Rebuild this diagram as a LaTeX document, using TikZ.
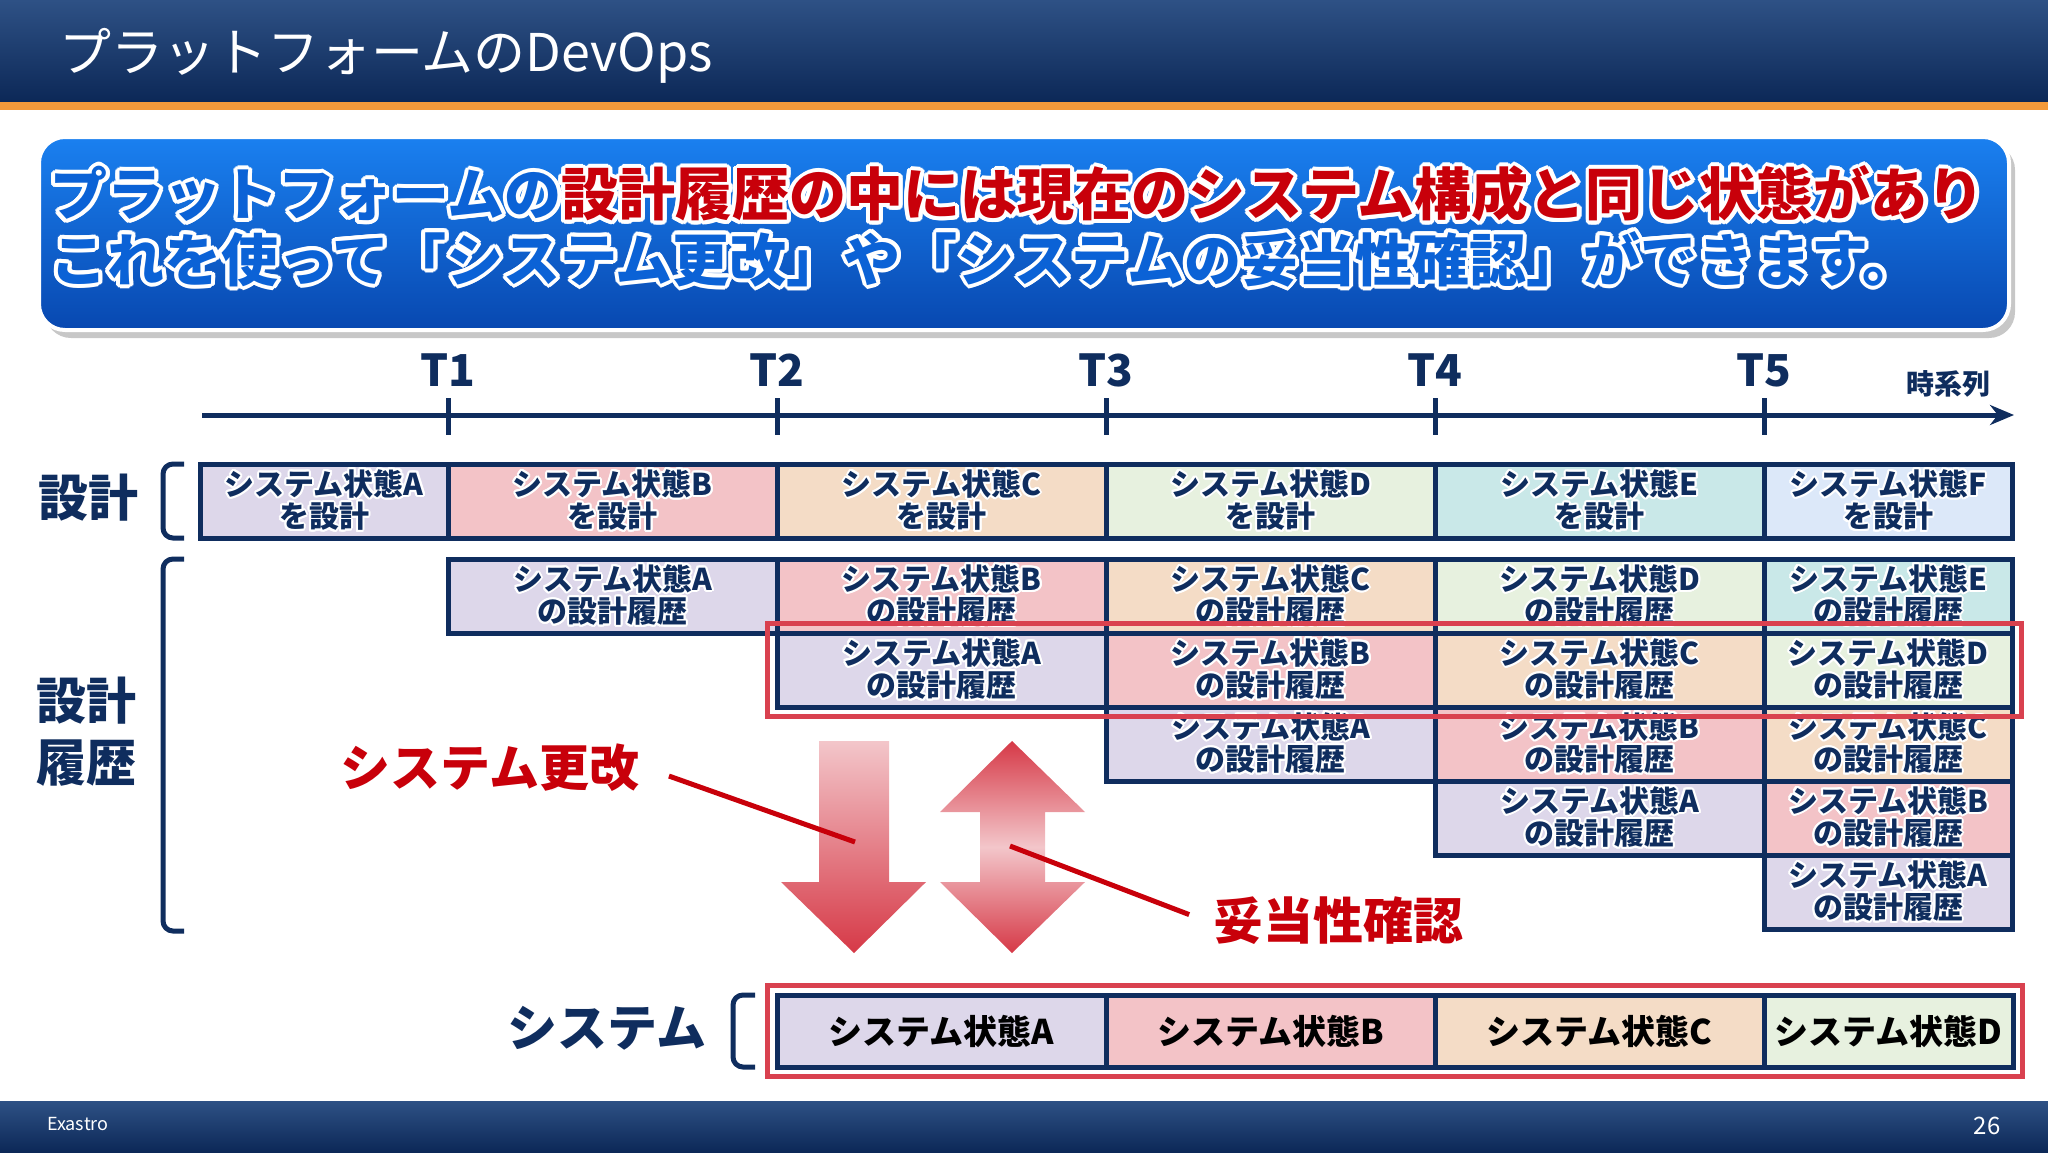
\documentclass[tikz,border=0pt]{standalone}
\usepackage{fontspec}
\setmainfont{Noto Sans CJK JP}
\usepackage{graphicx}
\usepackage{xcolor}
\usepackage[copies]{contour}
\usepackage{tikz}
\usetikzlibrary{arrows.meta,fit}
\contourlength{1pt}
\definecolor{mynavy}{HTML}{0F2D5E}
\definecolor{myorange}{HTML}{F39A3B}
\definecolor{myhead1}{HTML}{2E5185}
\definecolor{myhead2}{HTML}{0C2857}
\definecolor{mybanner1}{HTML}{1A80F0}
\definecolor{mybanner2}{HTML}{0848B0}
\definecolor{mytextblue}{HTML}{0B62D6}
\definecolor{mytextred}{HTML}{C8000A}
\definecolor{myhilite}{HTML}{D9414F}
\definecolor{myarrowlight}{HTML}{F3C6CA}
\definecolor{myarrowdark}{HTML}{D63947}
\definecolor{cellA}{HTML}{DDD7EA}
\definecolor{cellB}{HTML}{F3C3C7}
\definecolor{cellC}{HTML}{F4DCC6}
\definecolor{cellD}{HTML}{E7F1DF}
\definecolor{cellE}{HTML}{C9E8E8}
\definecolor{cellF}{HTML}{DCE8F9}
\pgfkeys{tikz/mycellbox/.style={draw=mynavy,line width=2.5pt,inner sep=0pt,minimum height=37pt,align=center,text=mynavy,font=\bfseries\fontsize{15}{14.5}\selectfont}}
\pgfkeys{tikz/mysyscell/.style={draw=mynavy,line width=2.5pt,inner sep=0pt,minimum height=36pt,text=black,font=\bfseries\fontsize{17}{20}\selectfont}}
\pgfkeys{tikz/myhilite/.style={draw=myhilite,line width=2.5pt,inner sep=3.5pt}}
\pgfkeys{tikz/mybanner/.style={inner sep=0pt,font=\bfseries\fontsize{28.5}{32}\selectfont\contourlength{2pt}}}
\pgfkeys{tikz/myaxis/.style={draw=mynavy,line width=2.5pt}}
\pgfkeys{tikz/mytick/.style={text=mynavy,font=\bfseries\fontsize{22}{24}\selectfont}}
\pgfkeys{tikz/mylabel/.style={text=mynavy,align=center,font=\bfseries\fontsize{25}{31}\selectfont}}
\pgfkeys{tikz/myredlabel/.style={text=mytextred,font=\bfseries\fontsize{25}{28}\selectfont}}
\pgfkeys{tikz/myleader/.style={draw=mytextred,line width=2.5pt}}
\pgfkeys{tikz/mybracket/.style={draw=mynavy,line width=2.5pt,rounded corners=5pt}}
\newcommand\mycols{{200,448,777,1106,1435,1764,2012}}
\newcommand\myletters{{"A","B","C","D","E","F"}}
\newcommand*\mycell[6]{%
  \pgfmathsetmacro\mycx{(#2+#3)/2}%
  \pgfmathsetmacro\mycw{(#3-#2)/2}%
  \node[mycellbox,fill=cell#5,minimum width=\mycw pt] (#1) at (\mycx,#4+37) {\contour{white}{システム状態#5}\\\contour{white}{#6}};%
}

\begin{document}
\begin{tikzpicture}[x=0.5pt,y=-0.5pt]
    \useasboundingbox (0,0) rectangle (2048,1152);
    % header and footer
    \shade[top color=myhead1,bottom color=myhead2] (0,0) rectangle (2048,102);
    \fill[myorange] (0,102) rectangle (2048,110);
    \node[anchor=west,text=white,font=\fontsize{26}{30}\selectfont] (title) at (52,56) {プラットフォームのDevOps};
    \shade[top color=myhead1,bottom color=myhead2] (0,1101) rectangle (2048,1152);
    \node[anchor=west,text=white,font=\fontsize{9}{10}\selectfont] (brand) at (40,1124) {Exastro};
    \node[text=white,font=\fontsize{12}{14}\selectfont] (page) at (1987,1126) {26};
    % banner
    \fill[black!22,rounded corners=13pt] (45,144) rectangle (2015,338);
    \shadedraw[top color=mybanner1,bottom color=mybanner2,draw=white,line width=2pt,rounded corners=13pt] (39,137) rectangle (2009,330);
    \node[mybanner,anchor=west] (msg1) at (50,196) {\textcolor{mytextblue}{\contour{white}{プラットフォームの}}\textcolor{mytextred}{\contour{white}{設計履歴の中には現在のシステム構成と同じ状態があり}}};
    \node[mybanner,anchor=west] (msg2) at (50,261) {\textcolor{mytextblue}{\contour{white}{これを使って「システム更改」や「システムの妥当性確認」ができます。}}};
    % time axis
    \coordinate (ax0) at (202,415);
    \coordinate (ax1) at (2014,415);
    \draw[myaxis,-{Stealth[length=12pt,width=10pt]}] (ax0) -- (ax1);
    \foreach \i/\x in {1/448,2/777,3/1106,4/1435,5/1764} {
        \draw[myaxis] (\x,398) -- (\x,435);
        \node[mytick] (t\i) at (\x,370) {T\i};
    }
    \node[mytick,font=\bfseries\fontsize{14}{16}\selectfont] (jikei) at (1948,384) {時系列};
    % row labels and brackets
    \node[mylabel] (sekkei) at (88,498) {設計};
    \node[mylabel] (rireki) at (86,732) {設計\\履歴};
    \node[mylabel] (sys) at (607,1028) {システム};
    \draw[mybracket] (184,464) -- (163,464) -- (163,538) -- (184,538);
    \draw[mybracket] (184,559) -- (163,559) -- (163,931) -- (184,931);
    \draw[mybracket] (755,995) -- (733,995) -- (733,1067) -- (755,1067);
    % design row
    \foreach \k in {1,...,6} {
        \pgfmathtruncatemacro\xa{\mycols[\k-1]}
        \pgfmathtruncatemacro\xb{\mycols[\k]}
        \pgfmathsetmacro\lt{\myletters[\k-1]}
        \mycell{d\lt}{\xa}{\xb}{464}{\lt}{を設計}
    }
    % history rows
    \foreach \r in {1,...,5} {
        \pgfmathtruncatemacro\first{\r+1}
        \foreach \c in {\first,...,6} {
            \pgfmathtruncatemacro\xa{\mycols[\c-1]}
            \pgfmathtruncatemacro\xb{\mycols[\c]}
            \pgfmathtruncatemacro\yt{559+74*(\r-1)}
            \pgfmathsetmacro\lt{\myletters[\c-\r-1]}
            \mycell{h\r\lt}{\xa}{\xb}{\yt}{\lt}{の設計履歴}
        }
    }
    \node[myhilite,fit=(h2A)(h2D)] (histhl) {};
    % system row
    \foreach \lt/\xa/\xb in {A/777/1106,B/1106/1435,C/1435/1764,D/1764/2013} {
        \pgfmathsetmacro\mycx{(\xa+\xb)/2}
        \pgfmathsetmacro\mycw{(\xb-\xa)/2}
        \node[mysyscell,fill=cell\lt,minimum width=\mycw pt] (s\lt) at (\mycx,1031) {システム状態\lt};
    }
    \node[myhilite,fit=(sA)(sD)] (syshl) {};
    % arrows
    \shade[top color=myarrowlight,bottom color=myarrowdark] (819,741) -- (889,741) -- (889,882) -- (926,882) -- (854,953) -- (781,882) -- (819,882) -- cycle;
    \shade[top color=myarrowdark,bottom color=myarrowdark,middle color=myarrowlight] (1012,741) -- (1085,812) -- (1045,812) -- (1045,882) -- (1085,882) -- (1012,953) -- (940,882) -- (980,882) -- (980,812) -- (940,812) -- cycle;
    \coordinate (chgpt) at (855,842);
    \coordinate (vldpt) at (1010,846);
    \node[myredlabel] (kaikou) at (490,768) {システム更改};
    \node[myredlabel] (datou) at (1338,921) {妥当性確認};
    \draw[myleader,shorten <=12pt] (kaikou.east) -- (chgpt);
    \draw[myleader,shorten >=9pt] (vldpt) -- (datou.west);
\end{tikzpicture}
\end{document}
